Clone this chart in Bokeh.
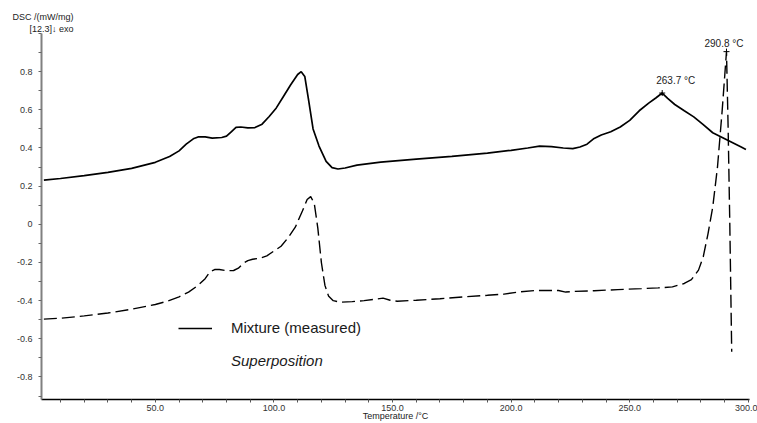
from bokeh.plotting import figure
from bokeh.models import (FixedTicker, CustomJSTickFormatter, Label, Legend,
                          LegendItem, Range1d, Title)
from bokeh.embed import file_html
from bokeh.resources import INLINE

# ---------------- data ----------------
T_mix = [3, 10, 20, 30, 40, 50, 56, 60, 63, 66, 68, 71, 74, 78, 80, 82, 84, 86, 89,
         92, 95, 98, 101, 104, 107, 110, 111.5, 113, 114.5, 116.5, 119, 122, 124.5,
         127, 130, 135, 145, 160, 175, 190, 200, 207, 212, 217, 222, 226, 229, 232,
         235, 238, 242, 246, 250, 254, 258, 261, 263.7, 266, 269, 273, 277, 281, 285,
         289, 293, 297, 299]
DSC_mix = [0.232, 0.24, 0.255, 0.272, 0.293, 0.325, 0.355, 0.385, 0.42, 0.448, 0.458,
           0.458, 0.452, 0.455, 0.462, 0.485, 0.508, 0.51, 0.505, 0.507, 0.525, 0.565,
           0.61, 0.67, 0.73, 0.785, 0.80, 0.775, 0.66, 0.50, 0.41, 0.33, 0.297, 0.29,
           0.295, 0.31, 0.326, 0.342, 0.356, 0.373, 0.388, 0.40, 0.41, 0.407, 0.40,
           0.397, 0.405, 0.42, 0.45, 0.468, 0.485, 0.51, 0.545, 0.595, 0.635, 0.662,
           0.688, 0.66, 0.628, 0.595, 0.563, 0.522, 0.48, 0.455, 0.43, 0.405, 0.392]

T_sup = [3, 10, 20, 30, 40, 50, 55, 60, 64, 68, 71, 73, 75, 77, 80, 83, 85, 87, 89, 91,
         94, 97, 100, 103, 106, 109, 112, 114, 115.5, 117, 118.5, 120, 121.5, 123, 125,
         128, 133, 138, 143, 146, 149, 152, 160, 170, 180, 190, 197, 203, 210, 215,
         220, 223, 226, 235, 245, 255, 262, 268, 273, 276, 279, 281, 283, 285, 287,
         289, 290.8, 291.5, 292.2, 293]
DSC_sup = [-0.497, -0.492, -0.48, -0.465, -0.445, -0.42, -0.403, -0.38, -0.355, -0.32,
           -0.285, -0.25, -0.237, -0.237, -0.243, -0.242, -0.23, -0.205, -0.19, -0.183,
           -0.178, -0.165, -0.14, -0.115, -0.07, -0.015, 0.07, 0.13, 0.145, 0.11,
           -0.02, -0.2, -0.32, -0.375, -0.40, -0.408, -0.405, -0.40, -0.392, -0.387,
           -0.398, -0.403, -0.398, -0.39, -0.38, -0.372, -0.366, -0.355, -0.347,
           -0.347, -0.347, -0.355, -0.352, -0.348, -0.342, -0.337, -0.333, -0.328,
           -0.31, -0.29, -0.24, -0.17, -0.05, 0.09, 0.30, 0.60, 0.905, 0.50, 0.0,
           -0.668]

x_major = [50, 100, 150, 200, 250, 300]
x_minor = [10, 20, 30, 40, 60, 70, 80, 90, 110, 120, 130, 140, 160, 170, 180, 190,
           210, 220, 230, 240, 260, 270, 280, 290]
y_major = [-0.8, -0.6, -0.4, -0.2, 0, 0.2, 0.4, 0.6, 0.8]
y_minor = [-0.9, -0.7, -0.5, -0.3, -0.1, 0.1, 0.3, 0.5, 0.7, 0.9, 1.0]

peak_T = [263.7, 290.8]
peak_val = [0.688, 0.905]
peak_text = ["263.7 °C", "290.8 °C"]

series_names = ["Mixture (measured)", "Superposition"]
y_title = "DSC /(mW/mg)"
y_sub = "[12.3]↓ exo"
x_title = "Temperature /°C"

# ---------------- figure ----------------
X0, X1 = 2, 300.5
Y0, Y1 = -0.918, 1.0
L, R, T, B = 41, 8, 33, 21
W, H = 757, 423
FONT = "Liberation Sans"

p = figure(width=W, height=H, output_backend="svg", toolbar_location=None,
           x_range=Range1d(X0, X1), y_range=Range1d(Y0, Y1),
           min_border_left=L, min_border_right=R, min_border_top=T,
           min_border_bottom=B)
p.title.visible = False
p.outline_line_color = None
p.grid.visible = False
p.background_fill_color = "white"
p.border_fill_color = "white"

fmt = CustomJSTickFormatter(code="return Math.abs(tick) < 1e-9 ? '0' : tick.toFixed(1);")

xa = p.xaxis[0]
xa.ticker = FixedTicker(ticks=x_major, minor_ticks=x_minor)
xa.formatter = fmt
xa.axis_line_color = "black"
xa.axis_line_width = 1.5
xa.major_tick_line_color = "#555555"
xa.minor_tick_line_color = "#555555"
xa.major_tick_out = 3
xa.major_tick_in = 0
xa.minor_tick_out = 3
xa.minor_tick_in = 0
xa.major_label_standoff = 2
xa.major_label_text_font = FONT
xa.major_label_text_font_size = "9px"
xa.major_label_text_color = "#333333"
xa.axis_label = x_title
xa.axis_label_text_font = FONT
xa.axis_label_text_font_size = "9px"
xa.axis_label_text_font_style = "normal"
xa.axis_label_text_color = "#222222"
xa.axis_label_standoff = -3

ya = p.yaxis[0]
ya.ticker = FixedTicker(ticks=y_major, minor_ticks=y_minor)
ya.formatter = fmt
ya.axis_line_color = "#808080"
ya.axis_line_width = 2
ya.major_tick_line_color = "#666666"
ya.minor_tick_line_color = "#666666"
ya.major_tick_out = 3
ya.major_tick_in = 0
ya.minor_tick_out = 3
ya.minor_tick_in = 0
ya.major_label_standoff = 6
ya.major_label_text_font = FONT
ya.major_label_text_font_size = "9px"
ya.major_label_text_color = "#333333"

# ---------------- titles at top-left ----------------
t_sub = Title(text=y_sub, align="left", offset=29 - L, standoff=0,
              text_font=FONT, text_font_size="9px", text_font_style="normal",
              text_color="#222222")
t_main = Title(text=y_title, align="left", offset=12 - L, standoff=0,
               text_font=FONT, text_font_size="9px", text_font_style="normal",
               text_color="#222222")
p.add_layout(t_sub, "above")
p.add_layout(t_main, "above")

# ---------------- curves ----------------
r_mix = p.line(T_mix, DSC_mix, line_color="black", line_width=1.7)
r_sup = p.line(T_sup, DSC_sup, line_color="black", line_width=1.4, line_dash="13 5")
r_sup_leg = p.line([], [], line_color="black", line_width=1.2, line_dash="5 4")

p.scatter(peak_T, peak_val, marker="cross", size=6, line_color="black", line_width=1)

# peak labels
p.add_layout(Label(x=peak_T[0], y=peak_val[0], x_offset=-6, y_offset=13,
                   text=peak_text[0], text_font=FONT, text_font_size="10px",
                   text_color="#222222", text_align="left", text_baseline="middle"))
p.add_layout(Label(x=peak_T[1], y=peak_val[1], x_offset=-22, y_offset=8,
                   text=peak_text[1], text_font=FONT, text_font_size="10px",
                   text_color="#222222", text_align="left", text_baseline="middle"))

# ---------------- legends ----------------
common = dict(border_line_color=None, background_fill_alpha=0, padding=0, margin=0,
              glyph_width=34, glyph_height=16, label_height=16, label_standoff=19,
              label_text_font=FONT, label_text_font_size="15px",
              label_text_color="#1a1a1a")
leg1 = Legend(items=[LegendItem(label=series_names[0], renderers=[r_mix])],
              location=(137, 63), **common)
leg2 = Legend(items=[LegendItem(label=series_names[1], renderers=[r_sup_leg])],
              location=(137, 30), label_text_font_style="italic", **common)
p.add_layout(leg1)
p.add_layout(leg2)

open("out.html", "w").write(file_html(p, INLINE))
